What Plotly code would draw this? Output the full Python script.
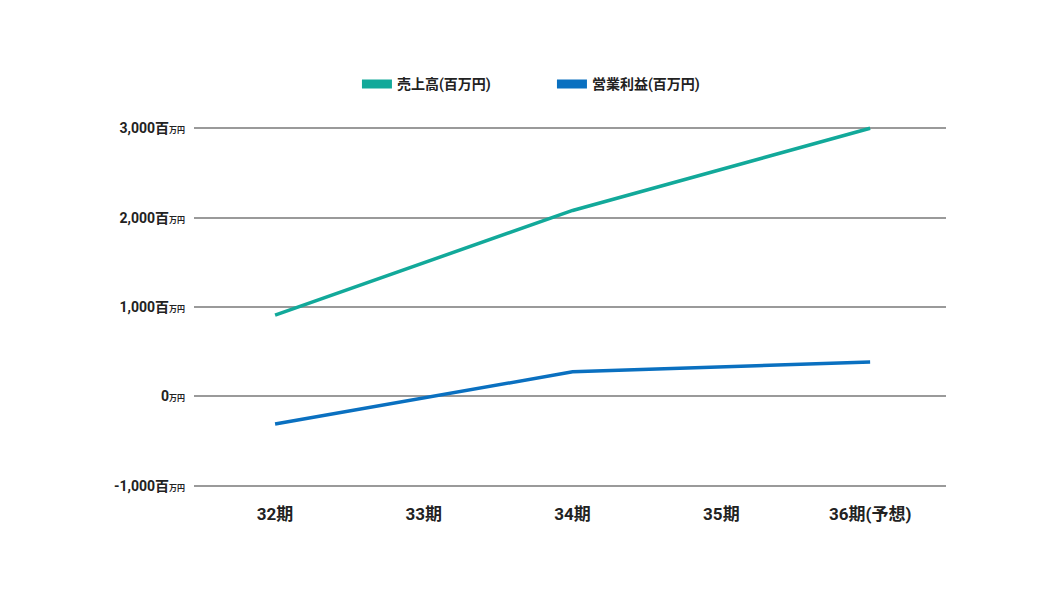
import plotly.graph_objects as go

categories = ["32期", "33期", "34期", "35期", "36期(予想)"]
sales = [910, None, 2080, None, 3000]
op_profit = [-310, None, 275, None, 385]
series_names = ["売上高(百万円)", "営業利益(百万円)"]
colors = ["#12a99a", "#0a70c0"]

y_tickvals = [-1000, 0, 1000, 2000, 3000]
y_main = ["-1,000百", "0", "1,000百", "2,000百", "3,000百"]
y_unit = "万円"

FONT = "Roboto, Noto Sans CJK JP, sans-serif"

ticktext = [f"<b>{m}</b><span style='font-size:8px'><b>{y_unit}</b></span>" for m in y_main]

fig = go.Figure()
for name, vals, c in zip(series_names, [sales, op_profit], colors):
    fig.add_trace(go.Scatter(x=categories, y=vals, mode="lines", connectgaps=True,
                             line=dict(color=c, width=3.5), showlegend=False, hoverinfo="skip"))
    fig.add_trace(go.Scatter(x=[None], y=[None], mode="lines", name=name,
                             line=dict(color=c, width=9)))

fig.update_layout(
    width=1060, height=600,
    margin=dict(l=186, r=122, t=118, b=120, autoexpand=False),
    paper_bgcolor="white", plot_bgcolor="white",
    font=dict(family=FONT, color="#222222", size=13),
    legend=dict(orientation="h", x=0.476, xanchor="center", y=1.115, yanchor="middle",
                font=dict(size=14, family=FONT, weight="bold"),
                itemwidth=30, entrywidth=150, bgcolor="rgba(0,0,0,0)"),
    xaxis=dict(type="category", categoryorder="array", categoryarray=categories,
               range=[-0.545, 4.51], showgrid=False, zeroline=False, showline=False,
               ticks="", tickfont=dict(size=17, family=FONT, weight="bold"),
               ticklabelstandoff=14),
    yaxis=dict(range=[-1025, 3025], tickvals=y_tickvals, ticktext=ticktext,
               showgrid=True, gridcolor="#9a9a9a", gridwidth=2, zeroline=False,
               showline=False, ticks="", tickfont=dict(size=14, family=FONT),
               ticklabelstandoff=8),
)

fig.write_html("out.html")
